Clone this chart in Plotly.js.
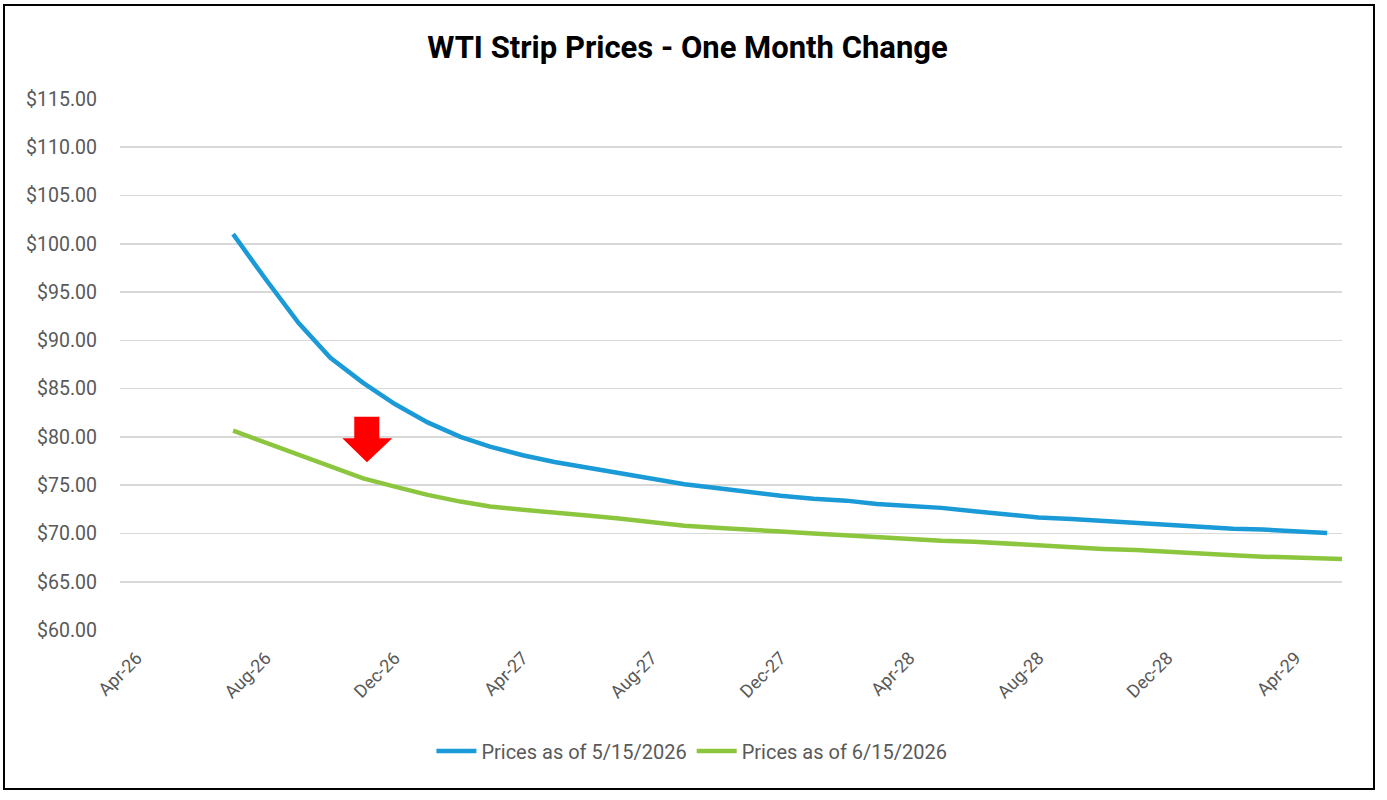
<!DOCTYPE html>
<html>
<head>
<meta charset="utf-8">
<script src="https://cdn.plot.ly/plotly-3.0.1.min.js"></script>
<style>
  html, body { margin: 0; padding: 0; background: #fff; }
  #chart { position: absolute; left: 0; top: 0; width: 1387px; height: 800px; }
  #frame { position: absolute; left: 3px; top: 4px; width: 1372px; height: 786px; border: 2px solid #000; box-sizing: border-box; pointer-events: none; }
</style>
</head>
<body>
<div id="chart"></div>
<div id="frame"></div>
<script>
// Contract months
const monthsMay = [
  '2026-07-01','2026-08-01','2026-09-01','2026-10-01','2026-11-01','2026-12-01',
  '2027-01-01','2027-02-01','2027-03-01','2027-04-01','2027-05-01','2027-06-01',
  '2027-07-01','2027-08-01','2027-09-01','2027-10-01','2027-11-01','2027-12-01',
  '2028-01-01','2028-02-01','2028-03-01','2028-04-01','2028-05-01','2028-06-01',
  '2028-07-01','2028-08-01','2028-09-01','2028-10-01','2028-11-01','2028-12-01',
  '2029-01-01','2029-02-01','2029-03-01','2029-04-01','2029-05-01'
];
const monthsJun = monthsMay.concat(['2029-06-01']);

// Prices as of 5/15/2026
const pricesMay = [
  101.0, 96.3, 91.8, 88.2, 85.6, 83.4, 81.5, 80.0, 79.0, 78.1, 77.4, 76.8,
  76.2, 75.6, 75.1, 74.7, 74.25, 73.9, 73.6, 73.4, 73.05, 72.85, 72.65, 72.3,
  71.95, 71.65, 71.5, 71.3, 71.05, 70.95, 70.7, 70.5, 70.4, 70.2, 70.05
];
// Prices as of 6/15/2026
const pricesJun = [
  80.65, 79.4, 78.1, 76.9, 75.7, 74.85, 74.0, 73.3, 72.8, 72.45, 72.1, 71.85,
  71.55, 71.15, 70.8, 70.6, 70.35, 70.2, 70.0, 69.8, 69.6, 69.4, 69.25, 69.15,
  68.95, 68.7, 68.55, 68.4, 68.28, 68.14, 68.0, 67.75, 67.6, 67.5, 67.4, 67.3
];

const seriesNames = ['Prices as of 5/15/2026', 'Prices as of 6/15/2026'];
const chartTitle = 'WTI Strip Prices - One Month Change';

const FONT = 'Roboto, "Noto Sans", sans-serif';
const GRAY = '#595959';

const traces = [
  { x: monthsMay, y: pricesMay, type: 'scatter', mode: 'lines', name: seriesNames[0],
    line: { color: '#1a9ad6', width: 4.5 }, hoverinfo: 'x+y' },
  { x: monthsJun, y: pricesJun, type: 'scatter', mode: 'lines', name: seriesNames[1],
    line: { color: '#8cc63f', width: 4.5 }, hoverinfo: 'x+y' }
];

const layout = {
  width: 1387, height: 800,
  paper_bgcolor: '#fff', plot_bgcolor: '#fff',
  margin: { l: 120, r: 45, t: 99, b: 170 },
  font: { family: FONT, color: GRAY },
  title: {
    text: '<b>' + chartTitle + '</b>',
    font: { family: FONT, size: 31, color: '#000' },
    xref: 'container', x: 0.4957, xanchor: 'center',
    yref: 'container', y: 0.941, yanchor: 'middle'
  },
  xaxis: {
    type: 'date',
    range: ['2026-03-16', '2029-05-15'],
    tick0: '2026-04-01', dtick: 'M4', tickformat: '%b-%y',
    tickangle: -45,
    showgrid: false, zeroline: false, showline: false, ticks: '',
    ticklabelstandoff: 13,
    tickfont: { family: FONT, size: 18, color: GRAY }
  },
  yaxis: {
    range: [60, 115], dtick: 5, tick0: 60,
    tickformat: '$.2f',
    showgrid: true, gridcolor: '#d9d9d9', gridwidth: 1.6,
    zeroline: false, showline: false, ticks: '',
    ticklabelstandoff: 22,
    tickfont: { family: FONT, size: 19.5, color: GRAY }
  },
  showlegend: true,
  legend: {
    orientation: 'h', x: 0.468, xanchor: 'center', y: -0.228, yanchor: 'middle',
    font: { family: FONT, size: 20, color: GRAY },
    itemwidth: 40
  },
  shapes: [
    { type: 'path', xref: 'paper', yref: 'paper',
      path: 'M 0.1917,0.4017 L 0.2122,0.4017 L 0.2122,0.3610 L 0.2228,0.3610 L 0.2021,0.3158 L 0.1819,0.3610 L 0.1917,0.3610 Z',
      fillcolor: '#ff0000', line: { width: 0 } }
  ]
};

Plotly.newPlot('chart', traces, layout, { displayModeBar: false, staticPlot: true });
</script>
</body>
</html>
